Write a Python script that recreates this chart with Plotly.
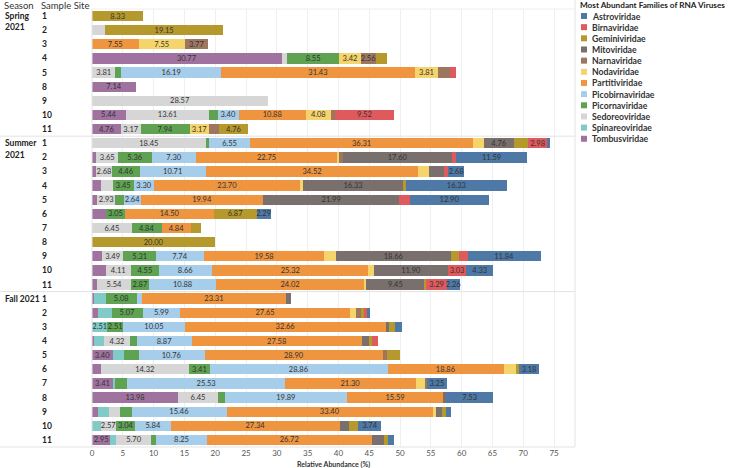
import plotly.graph_objects as go

# ---------------- data ----------------
season_names = ["Spring 2021", "Summer 2021", "Fall 2021"]
sites_spring = [1, 2, 3, 4, 5, 8, 9, 10, 11]
sites_summer = [1, 2, 3, 4, 5, 6, 7, 8, 9, 10, 11]
sites_fall = [1, 2, 3, 4, 5, 6, 7, 8, 9, 10, 11]

# legend (alphabetical) order
families = ["Astroviridae", "Birnaviridae", "Geminiviridae", "Mitoviridae", "Narnaviridae",
            "Nodaviridae", "Partitiviridae", "Picobirnaviridae", "Picornaviridae",
            "Sedoreoviridae", "Spinareoviridae", "Tombusviridae"]
colors = ["#4E79A7", "#DF5A5C", "#B6992D", "#79706E", "#9D7660",
          "#F6D46C", "#F0953F", "#A6CDEA", "#5EA252", "#D6D6D6", "#80CAC8", "#A0729F"]

# values per row: Spring(9 sites) | Summer(11) | Fall(11)
tombusviridae = [0, 0, 0, 30.77, 0, 7.14, 0, 5.44, 4.76,
                 0, 0.65, 0.60, 1.40, 0.85, 2.29, 0, 0, 1.60, 2.20, 0.85,
                 0.40, 0.90, 0, 0.25, 3.40, 1.40, 3.41, 13.98, 1.05, 0, 2.95]
spinareoviridae = [0, 0, 0, 0, 0, 0, 0, 0, 0,
                   0, 0, 0, 0, 0, 0, 0, 0, 0, 0, 0,
                   1.80, 2.30, 2.51, 1.65, 1.75, 0, 0.40, 0, 1.68, 1.40, 1.00]
sedoreoviridae = [0, 2.13, 0, 0.85, 3.81, 0, 28.57, 13.61, 3.17,
                  18.45, 3.65, 2.68, 1.95, 2.93, 0, 6.45, 0, 3.49, 4.11, 5.54,
                  0, 0, 0, 4.32, 0, 14.32, 0, 6.45, 1.80, 2.57, 5.70]
picornaviridae = [0, 0, 0, 8.55, 0.95, 0, 0, 1.36, 7.94,
                  0.60, 5.36, 4.46, 3.45, 1.47, 3.05, 4.84, 0, 5.31, 4.55, 2.87,
                  5.08, 5.07, 2.51, 1.10, 2.40, 3.41, 1.95, 1.08, 1.90, 3.04, 0.75]
picobirnaviridae = [0, 0, 0, 0, 16.19, 0, 0, 3.40, 0,
                    6.55, 7.30, 10.71, 3.30, 2.64, 0, 0, 0, 7.74, 8.66, 10.88,
                    0.85, 5.99, 10.05, 8.87, 10.76, 28.86, 25.53, 19.89, 15.46, 5.84, 8.25]
partitiviridae = [0, 0, 7.55, 0, 31.43, 0, 0, 10.88, 0,
                  36.31, 22.75, 34.52, 23.70, 19.94, 14.50, 4.84, 0, 19.58, 25.32, 24.02,
                  23.31, 27.65, 32.66, 27.58, 28.90, 18.86, 21.30, 15.59, 33.40, 27.34, 26.72]
nodaviridae = [0, 0, 7.55, 3.42, 3.81, 0, 0, 4.08, 3.17,
               1.79, 0.45, 1.79, 0.40, 0, 0, 0, 0, 1.90, 1.00, 0.35,
               0, 0.90, 0, 0, 0, 2.05, 1.50, 0, 0.55, 0, 0]
narnaviridae = [0, 0, 3.77, 2.56, 1.90, 0, 0, 0.68, 1.59,
                0, 0.65, 0, 0, 0, 0, 0, 0, 0, 0, 0,
                0, 0.80, 0, 0, 0.60, 0, 0.27, 0, 0, 0, 0]
mitoviridae = [0, 0, 0, 0, 0, 0, 0, 0, 0,
               4.76, 17.60, 2.45, 16.33, 21.99, 0, 0, 0, 18.66, 11.90, 9.45,
               0.85, 0, 0.50, 1.20, 0, 0, 0, 0.54, 1.05, 1.45, 2.10]
geminiviridae = [8.33, 19.15, 0, 1.71, 0, 0, 0, 0, 4.76,
                 2.38, 0, 0, 0.45, 0, 6.87, 1.61, 20.00, 1.35, 0, 0.30,
                 0, 0.50, 1.01, 0.45, 2.15, 0.45, 0, 0, 0.60, 1.60, 0.55]
birnaviridae = [0, 0, 0, 0, 0.95, 0, 0, 9.52, 0,
                2.98, 0.65, 0.55, 0, 1.76, 0, 0, 0, 1.35, 3.03, 3.29,
                0, 0.45, 0, 0.95, 0, 0, 0, 0, 0, 0, 0]
astroviridae = [0, 0, 0, 0, 0, 0, 0, 0, 0,
                0.60, 11.59, 2.68, 16.33, 12.90, 2.29, 0, 0, 11.84, 4.33, 2.26,
                0, 0.55, 1.01, 0, 0, 3.18, 3.25, 7.53, 0.85, 3.74, 1.00]

x_ticks = list(range(0, 80, 5))
x_title = "Relative Abundance (%)"
legend_title = "Most Abundant Families of RNA Viruses"

# ---------------- build ----------------
values = {
    "Astroviridae": astroviridae, "Birnaviridae": birnaviridae, "Geminiviridae": geminiviridae,
    "Mitoviridae": mitoviridae, "Narnaviridae": narnaviridae, "Nodaviridae": nodaviridae,
    "Partitiviridae": partitiviridae, "Picobirnaviridae": picobirnaviridae,
    "Picornaviridae": picornaviridae, "Sedoreoviridae": sedoreoviridae,
    "Spinareoviridae": spinareoviridae, "Tombusviridae": tombusviridae,
}
color_of = dict(zip(families, colors))
stack_order = families[::-1]

season_sites = [sites_spring, sites_summer, sites_fall]
rows = []
for sname, ss in zip(season_names, season_sites):
    for s in ss:
        rows.append((sname, s))
n = len(rows)
ypos = list(range(n))

# last non-zero family per row (its label may overflow the segment)
last_fam = []
for i in range(n):
    lf = None
    for f in stack_order:
        if values[f][i] > 0:
            lf = f
    last_fam.append(lf)

FONT = "Lato, 'Open Sans', Arial, sans-serif"
LABEL_SIZE = 7.5
fig = go.Figure()
for f in stack_order:
    vals = values[f]
    labels = []
    for i, v in enumerate(vals):
        if v >= 2.5 or (f == last_fam[i] and v >= 2.2):
            labels.append(f"{v:.2f}")
        else:
            labels.append("")
    fig.add_trace(go.Bar(
        x=vals, y=ypos, orientation="h", name=f,
        marker=dict(color=color_of[f], line=dict(width=0)),
        text=labels, textposition="inside", insidetextanchor="middle", textangle=0,
        textfont=dict(size=LABEL_SIZE, color="#333333", family=FONT),
        cliponaxis=False, showlegend=False,
        hovertemplate=f + ": %{x:.2f}%<extra></extra>",
    ))

W, H = 731, 468
L, R, T, B = 92, 156, 9, 21
PW, PH = W - L - R, H - T - B


def xp(px):
    return (px - L) / PW


def yp(py):
    return 1 - (py - T) / PH


fig.update_layout(
    width=W, height=H, margin=dict(l=L, r=R, t=T, b=B),
    barmode="stack", bargap=0.27,
    plot_bgcolor="white", paper_bgcolor="white",
    font=dict(family=FONT, color="#333333"),
    uniformtext=dict(minsize=LABEL_SIZE, mode="show"),
    xaxis=dict(range=[0, 78.4], tickvals=x_ticks, ticktext=[str(t) for t in x_ticks],
               showgrid=True, gridcolor="#EFEFEF", gridwidth=1, zeroline=False,
               showline=False, ticks="", tickfont=dict(size=8, color="#555555")),
    yaxis=dict(range=[n - 0.5, -0.5], showticklabels=False, showgrid=False,
               zeroline=False, showline=False, ticks=""),
    showlegend=False,
)

shapes = []
line_col = "#E3E3E3"
# plot left / right borders
shapes.append(dict(type="line", xref="paper", yref="paper", x0=0, x1=0, y0=0, y1=1,
                   line=dict(color=line_col, width=1)))
shapes.append(dict(type="line", xref="paper", yref="paper", x0=1, x1=1, y0=0, y1=yp(0),
                   line=dict(color=line_col, width=1)))
# header line and bottom line
shapes.append(dict(type="line", xref="paper", yref="paper", x0=0, x1=1, y0=1, y1=1,
                   line=dict(color="#EEEEEE", width=1)))
shapes.append(dict(type="line", xref="paper", yref="paper", x0=xp(0), x1=1, y0=0, y1=0,
                   line=dict(color=line_col, width=1)))
# season separators
start = 0
season_starts = []
for ss in season_sites:
    season_starts.append(start)
    start += len(ss)
for s0 in season_starts[1:]:
    shapes.append(dict(type="line", xref="paper", yref="y", x0=xp(0), x1=1,
                       y0=s0 - 0.5, y1=s0 - 0.5, line=dict(color=line_col, width=1)))

annotations = []
# headers
for txt, px in (("Season", 3), ("Sample Site", 40)):
    annotations.append(dict(text=txt, x=xp(px), y=yp(-1), xref="paper", yref="paper",
                            xanchor="left", yanchor="top", showarrow=False, borderpad=0,
                            font=dict(size=9.5, color="#333333")))
# season labels
for sname, s0 in zip(season_names, season_starts):
    lines = [sname] if sname.startswith("Fall") else sname.split(" ")
    for k, ln in enumerate(lines):
        annotations.append(dict(text=f"<b>{ln}</b>", x=xp(3), y=s0 + k * 0.8,
                                xref="paper", yref="y", xanchor="left", yanchor="middle",
                                showarrow=False, font=dict(size=8.5, color="#222222")))
# site labels
for i, (sname, s) in enumerate(rows):
    annotations.append(dict(text=f"<b>{s}</b>", x=xp(40), y=i, xref="paper", yref="y",
                            xanchor="left", yanchor="middle", showarrow=False,
                            font=dict(size=8.5, color="#222222")))
# x axis title
annotations.append(dict(text=f"<b>{x_title}</b>", x=0.5, y=yp(464), xref="paper",
                        yref="paper", xanchor="center", yanchor="middle", showarrow=False,
                        font=dict(size=7, color="#333333")))
# legend
annotations.append(dict(text=f"<b>{legend_title}</b>", x=xp(578), y=yp(5), xref="paper",
                        yref="paper", xanchor="left", yanchor="middle", showarrow=False,
                        font=dict(size=8.2, color="#222222")))
for k, f in enumerate(families):
    cy = 16 + 11.16 * k
    shapes.append(dict(type="rect", xref="paper", yref="paper",
                       x0=xp(581), x1=xp(587), y0=yp(cy + 3), y1=yp(cy - 3),
                       fillcolor=color_of[f], line=dict(width=0)))
    annotations.append(dict(text=f"<b>{f}</b>", x=xp(590), y=yp(cy), xref="paper",
                            yref="paper", xanchor="left", yanchor="middle", showarrow=False,
                            font=dict(size=8.7, color="#333333")))

fig.update_layout(shapes=shapes, annotations=annotations)
fig.write_html("out.html")
